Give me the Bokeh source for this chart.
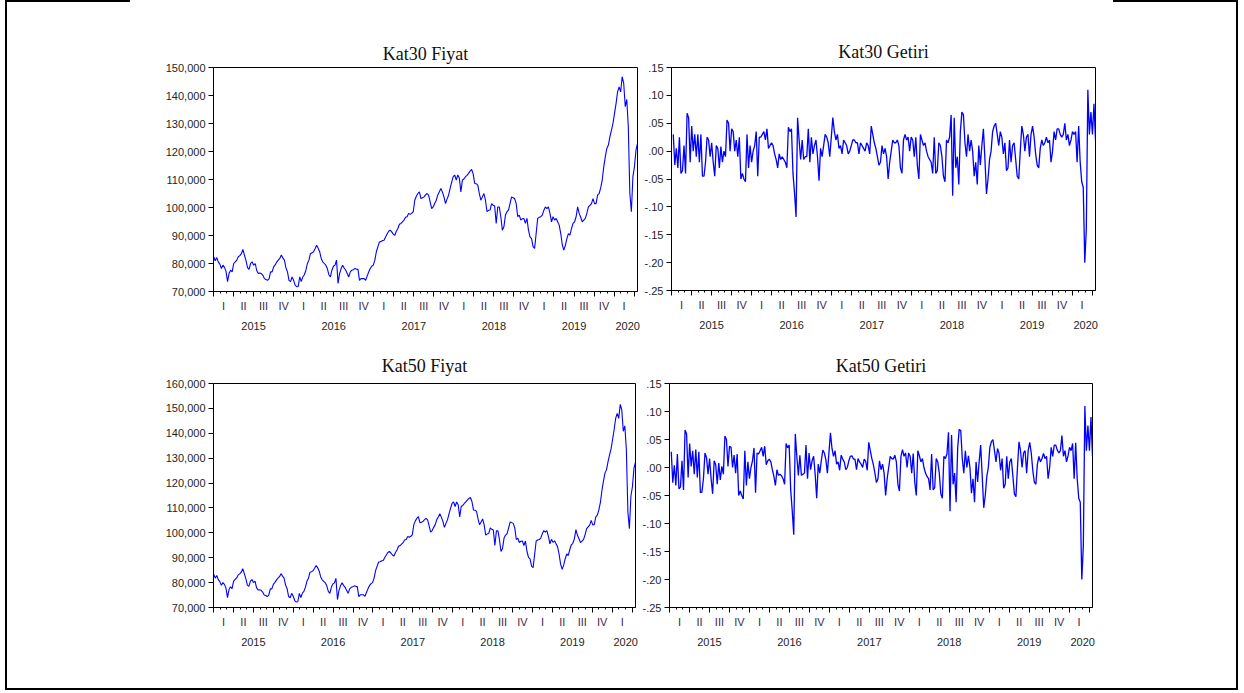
import numpy as np
import pandas as pd
from bokeh.plotting import figure
from bokeh.models import (LinearAxis, FixedTicker, CustomJSTickFormatter, Range1d,
                          Div, Spacer)
from bokeh.layouts import column, row
from bokeh.embed import file_html
from bokeh.resources import INLINE

# ---------------- data (weekly) ----------------
start_date = "2015-01-02"
n_weeks = 277

kat30_price_k = [
    82.4, 81.0, 82.1, 80.5, 79.8, 78.2, 79.4, 78.6, 77.2, 73.5,
    76.5, 77.6, 77.0, 80.0, 80.6, 81.2, 82.4, 82.8, 83.5, 85.0,
    83.0, 81.0, 78.5, 77.9, 80.0, 80.6, 79.4, 80.0, 77.5, 76.4,
    76.6, 76.4, 75.8, 74.6, 74.3, 74.0, 74.5, 77.0, 77.0, 78.8,
    79.5, 80.5, 81.2, 81.8, 83.0, 82.0, 81.2, 78.5, 77.0, 74.0,
    73.5, 75.2, 74.0, 72.3, 71.7, 71.8, 75.2, 73.5, 75.2, 76.0,
    77.6, 80.0, 81.2, 83.6, 83.8, 84.2, 85.3, 86.5, 85.5, 84.2,
    81.8, 80.6, 80.0, 79.4, 78.2, 76.0, 75.2, 77.6, 79.0, 79.4,
    81.2, 72.9, 76.4, 78.2, 79.4, 78.4, 77.6, 76.4, 75.2, 77.0,
    77.6, 77.8, 78.2, 78.0, 77.9, 74.0, 74.6, 74.6, 74.6, 74.0,
    75.5, 77.0, 78.2, 79.0, 79.4, 81.2, 84.2, 86.0, 87.7, 87.8,
    88.2, 88.3, 89.5, 90.5, 91.5, 91.9, 91.3, 90.5, 90.1, 91.5,
    92.5, 94.0, 94.3, 94.9, 95.5, 96.5, 96.7, 97.9, 97.6, 97.9,
    98.5, 102.6, 104.0, 105.0, 105.6, 103.2, 103.5, 103.8, 104.5, 105.0,
    104.4, 102.0, 99.6, 100.2, 101.5, 102.6, 104.5, 105.6, 106.8, 105.5,
    103.8, 101.4, 103.0, 104.4, 106.8, 109.0, 111.0, 111.6, 109.8, 111.6,
    110.5, 105.6, 109.8, 110.2, 111.0, 111.5, 112.2, 113.0, 113.6, 112.0,
    108.6, 108.5, 108.0, 105.0, 102.6, 103.8, 105.0, 102.6, 98.5, 99.0,
    99.1, 101.4, 100.8, 100.5, 94.3, 100.2, 100.2, 96.7, 91.9, 93.1,
    97.3, 98.5, 99.1, 101.4, 103.8, 103.5, 103.2, 101.4, 96.7, 97.3,
    95.5, 96.0, 96.1, 94.3, 96.1, 91.9, 89.5, 88.9, 86.0, 85.4,
    90.7, 96.1, 96.5, 96.7, 97.3, 99.0, 100.2, 99.6, 100.2, 97.9,
    94.9, 96.7, 95.5, 96.1, 94.9, 93.7, 90.7, 86.7, 84.8, 86.5,
    88.9, 90.7, 90.1, 92.5, 94.3, 94.9, 96.7, 100.2, 97.9, 96.5,
    94.9, 95.5, 96.1, 97.9, 100.2, 100.8, 101.4, 103.2, 101.4, 101.4,
    104.4, 105.0, 107.0, 109.8, 114.5, 118.1, 121.1, 122.3, 125.2, 127.6,
    130.0, 133.6, 137.1, 141.3, 143.1, 141.3, 146.7, 144.3, 136.0, 138.6,
    128.8, 105.0, 98.5, 111.0, 114.5, 120.5, 122.9,
]

kat50_price_k = [
    83.4, 81.8, 82.9, 81.2, 80.4, 78.9, 80.0, 79.3, 77.8, 74.0,
    77.2, 78.3, 77.6, 80.6, 81.3, 81.9, 83.1, 83.5, 84.2, 85.6,
    83.6, 81.6, 79.0, 78.5, 80.6, 81.2, 80.0, 80.6, 78.0, 77.0,
    77.1, 76.9, 76.2, 75.0, 74.8, 74.4, 75.0, 77.5, 77.5, 79.3,
    80.1, 81.0, 81.8, 82.4, 83.6, 82.6, 81.8, 79.0, 77.5, 74.4,
    73.9, 75.7, 74.5, 72.8, 72.2, 72.3, 75.7, 74.0, 75.8, 76.5,
    78.2, 80.6, 81.8, 84.2, 84.4, 84.8, 85.8, 86.9, 86.0, 84.7,
    82.3, 81.1, 80.5, 79.9, 78.7, 76.5, 75.7, 78.1, 79.5, 79.9,
    81.7, 73.2, 76.9, 78.7, 79.9, 78.9, 78.1, 76.9, 75.7, 77.5,
    78.1, 78.3, 78.7, 78.5, 78.4, 74.4, 75.1, 75.1, 75.1, 74.5,
    76.0, 77.5, 78.8, 79.6, 80.0, 81.8, 84.8, 86.6, 88.3, 88.4,
    88.8, 88.9, 90.1, 91.1, 92.1, 92.5, 91.9, 91.1, 90.7, 92.1,
    93.1, 94.6, 94.9, 95.5, 96.1, 97.1, 97.3, 98.5, 98.2, 98.6,
    99.2, 103.3, 104.8, 105.9, 106.5, 104.0, 104.3, 104.6, 105.3, 105.8,
    105.2, 102.8, 100.3, 100.9, 102.2, 103.3, 105.3, 106.4, 107.7, 106.3,
    104.6, 102.2, 103.8, 105.2, 107.6, 109.8, 111.8, 112.4, 110.6, 112.4,
    111.3, 106.4, 110.6, 111.0, 111.8, 112.4, 113.1, 113.8, 114.2, 112.6,
    109.2, 109.1, 108.6, 105.6, 103.2, 104.4, 105.6, 103.2, 99.1, 99.6,
    99.7, 102.0, 101.4, 101.1, 94.9, 100.8, 100.8, 97.3, 92.5, 93.7,
    97.9, 99.1, 99.7, 102.0, 104.4, 104.1, 103.8, 102.0, 97.3, 97.9,
    96.1, 96.6, 96.7, 94.9, 96.7, 92.5, 90.1, 89.5, 86.6, 86.0,
    91.3, 96.7, 97.1, 97.3, 97.9, 99.6, 100.9, 100.3, 100.9, 98.6,
    95.6, 97.4, 96.2, 96.8, 95.6, 94.4, 91.4, 87.3, 85.3, 87.1,
    89.6, 91.5, 90.9, 93.3, 95.2, 95.8, 97.7, 101.3, 99.0, 97.6,
    96.1, 96.7, 97.4, 99.3, 101.7, 102.4, 103.1, 105.0, 103.2, 103.3,
    106.4, 107.1, 109.2, 112.2, 117.0, 120.8, 124.0, 125.4, 128.6, 131.3,
    133.8, 137.6, 141.5, 146.0, 148.0, 146.0, 151.6, 149.4, 140.8, 143.0,
    133.5, 108.5, 101.7, 114.8, 118.6, 126.0, 128.4,
]

# weekly returns start at the second week
kat30_return = [
    .03, -.025, .005, -.03, .025, -.04, -.035, .01, -.04, .068,
    .06, -.02, .045, 0, .03, -.01, .03, -.02, .03, -.045,
    -.045, -.02, .025, .02, -.01, .015, -.02, -.045, .01, .005,
    -.03, .008, -.02, 0, -.01, .056, .05, 0, .04, .035,
    0, .02, -.01, .025, -.05, -.04, -.05, -.055, .03, -.03,
    .01, -.02, 0, .01, .035, -.045, .025, .025, .03, .035,
    .02, .04, .005, .01, .015, .01, -.005, -.015, -.03, -.005,
    -.015, -.01, -.015, -.02, -.03, .043, .035, .04, -.04, -.075,
    -.118, .06, .02, -.015, .02, -.015, -.01, -.01, .04, -.02,
    .025, -.005, .01, .02, -.01, -.053, .005, -.01, .01, .03,
    .025, .015, -.01, .025, .06, .035, .02, .03, .005, .01,
    -.005, .02, .015, .01, -.005, 0, .01, .02, .02, .015,
    .015, -.005, .015, .01, .005, 0, .015, .01, -.005, .045,
    .03, .015, .005, -.01, -.025, -.02, .01, -.005, .005, -.01,
    -.05, -.02, 0, .02, .015, .015, .02, .01, -.03, -.04,
    .02, .03, .02, .025, 0, .025, .02, -.01, .025, -.025,
    -.05, .03, .02, .01, .015, 0, -.01, -.015, -.02, -.04,
    .025, -.04, -.035, .015, .01, -.01, -.045, -.055, .02, .015,
    .025, .065, -.08, .06, -.03, -.01, -.06, .035, .07, .065,
    .015, -.01, .03, 0, .02, 0, -.045, -.02, -.06, .01,
    -.025, .01, .04, -.015, -.077, -.05, -.015, 0, .035, .045,
    .05, .03, .01, .035, .025, -.005, .015, -.035, -.03, .02,
    -.02, .01, .015, -.015, -.045, -.05, 0, .045, .03, 0,
    .025, .03, -.01, .03, .045, .025, -.005, -.025, -.03, .005,
    .02, .01, .015, .025, .015, .02, -.02, 0, .035, .02,
    .04, .04, .03, .025, .03, .05, .02, .03, .01, .02,
    .035, .03, .035, -.02, .045, -.02, -.055, -.065, -.20, -.14,
    .11, .03, .07, .03, .085, .02,
]

kat50_return = [
    .028, -.027, .004, -.032, .024, -.038, -.035, .012, -.04, .067,
    .06, -.018, .043, .002, .03, -.012, .032, -.018, .028, -.045,
    -.044, -.02, .026, .018, -.012, .016, -.02, -.047, .012, .005,
    -.03, .008, -.022, .002, -.012, .056, .05, .002, .038, .036,
    0, .022, -.01, .024, -.05, -.042, -.05, -.056, .03, -.032,
    .01, -.02, 0, .012, .035, -.045, .026, .024, .03, .036,
    .02, .038, .005, .012, .015, .01, -.004, -.016, -.032, -.004,
    -.014, -.012, -.015, -.02, -.03, .043, .035, .04, -.04, -.077,
    -.12, .06, .02, -.014, .022, -.014, -.012, -.01, .04, -.02,
    .026, -.004, .012, .02, -.012, -.055, .006, -.01, .012, .031,
    .026, .014, -.01, .026, .062, .034, .02, .03, .006, .01,
    -.005, .022, .015, .01, -.004, 0, .012, .02, .021, .015,
    .015, -.004, .016, .01, .006, 0, .015, .011, -.005, .045,
    .03, .016, .005, -.01, -.027, -.02, .012, -.004, .006, -.01,
    -.05, -.02, 0, .02, .016, .015, .022, .01, -.03, -.042,
    .02, .032, .02, .026, 0, .026, .02, -.01, .025, -.026,
    -.05, .03, .021, .01, .016, 0, -.01, -.016, -.02, -.04,
    .024, -.04, -.036, .016, .01, -.01, -.047, -.055, .02, .016,
    .024, .063, -.078, .058, -.03, -.01, -.062, .035, .068, .066,
    .016, -.01, .03, 0, .021, 0, -.046, -.02, -.062, .01,
    -.026, .01, .04, -.015, -.072, -.05, -.016, 0, .036, .046,
    .05, .03, .01, .034, .025, -.005, .016, -.037, -.03, .02,
    -.02, .01, .016, -.015, -.047, -.052, 0, .046, .03, 0,
    .026, .03, -.01, .03, .045, .026, -.005, -.026, -.03, .006,
    .02, .01, .016, .025, .016, .02, -.02, 0, .036, .02,
    .04, .04, .031, .026, .03, .057, .02, .03, .01, .021,
    .036, .03, .043, -.02, .044, -.02, -.055, -.062, -.20, -.14,
    .11, .03, .075, .03, .09, .02,
]

price30_ticks = [70, 80, 90, 100, 110, 120, 130, 140, 150]
price50_ticks = [70, 80, 90, 100, 110, 120, 130, 140, 150, 160]
return_ticks = [-0.25, -0.20, -0.15, -0.10, -0.05, 0.0, 0.05, 0.10, 0.15]
quarter_names = ["I", "II", "III", "IV"]
year_label_pos = [2015.5, 2016.5, 2017.5, 2018.5, 2019.5, 2020.17]

# ---------------- time axis helpers ----------------
dates = pd.date_range(start_date, periods=n_weeks, freq="7D")
days_in_year = np.where(dates.is_leap_year, 366, 365)
xdec = (dates.year + (dates.dayofyear - 1) / days_in_year).to_numpy(dtype=float)
x_end = float(xdec[-1])

quarter_bounds = [2015 + q / 4 for q in range(0, 22)]
month_bounds = [2015 + m / 12 for m in range(0, 64)]
quarter_centers = [2015 + q / 4 + 0.125 for q in range(0, 21)]

LABEL_FONT = "Liberation Sans"
TITLE_FONT = "Liberation Serif"
TXT = "#1e1e1e"
BLUE = "#0000ff"

price_fmt = CustomJSTickFormatter(code="""
    const v = Math.round(tick * 1000);
    return v.toString().replace(/\\B(?=(\\d{3})+(?!\\d))/g, ",");
""")
ret_fmt = CustomJSTickFormatter(code="""
    const a = Math.abs(tick).toFixed(2).replace(/^0/, "");
    return (tick < -1e-9 ? "-" : "") + a;
""")
quarter_fmt = CustomJSTickFormatter(args=dict(names=quarter_names), code="""
    const f = tick - Math.floor(tick);
    const q = Math.floor(f * 4 + 1e-6);
    return names[q];
""")
year_fmt = CustomJSTickFormatter(code="return String(Math.floor(tick + 1e-6));")
blank_fmt = CustomJSTickFormatter(code="return '';")


def make_panel(title, xs, ys, ylo, yhi, yticks, yfmt, fw, fh, bl, br, bt, bb,
               tstand, lw):
    p = figure(frame_width=fw, frame_height=fh,
               x_range=Range1d(2015.0, x_end), y_range=Range1d(ylo, yhi),
               x_axis_type=None, y_axis_type=None,
               toolbar_location=None, output_backend="svg",
               min_border_left=bl, min_border_right=br,
               min_border_top=bt, min_border_bottom=bb,
               background_fill_color="white", border_fill_color="white",
               outline_line_color="black", outline_line_width=1,
               title=title)
    p.title.align = "center"
    p.title.text_font = TITLE_FONT
    p.title.text_font_size = "18px"
    p.title.text_font_style = "normal"
    p.title.text_color = "#111111"
    p.title.standoff = tstand

    yax = LinearAxis(ticker=FixedTicker(ticks=yticks), formatter=yfmt,
                     major_tick_out=5, major_tick_in=0,
                     minor_tick_line_color=None, axis_line_color="black",
                     major_tick_line_color="black",
                     major_label_text_font=LABEL_FONT,
                     major_label_text_font_size="11px",
                     major_label_text_color=TXT, major_label_standoff=3)
    p.add_layout(yax, "left")

    tick_ax = LinearAxis(ticker=FixedTicker(ticks=quarter_bounds, minor_ticks=month_bounds),
                         formatter=blank_fmt, major_tick_out=5, major_tick_in=0,
                         minor_tick_out=2, minor_tick_in=0,
                         axis_line_color="black", major_tick_line_color="black",
                         minor_tick_line_color="black",
                         major_label_text_font_size="0px", major_label_standoff=0)
    p.add_layout(tick_ax, "below")

    q_ax = LinearAxis(ticker=FixedTicker(ticks=quarter_centers, minor_ticks=[]),
                      formatter=quarter_fmt, axis_line_color=None,
                      major_tick_line_color=None, minor_tick_line_color=None,
                      major_tick_out=0, major_tick_in=0,
                      major_label_text_font=LABEL_FONT,
                      major_label_text_font_size="11px",
                      major_label_text_color="#3a2a48", major_label_standoff=3)
    p.add_layout(q_ax, "below")

    y_ax = LinearAxis(ticker=FixedTicker(ticks=year_label_pos, minor_ticks=[]),
                      formatter=year_fmt, axis_line_color=None,
                      major_tick_line_color=None, minor_tick_line_color=None,
                      major_tick_out=0, major_tick_in=0,
                      major_label_text_font=LABEL_FONT,
                      major_label_text_font_size="11px",
                      major_label_text_color=TXT, major_label_standoff=7)
    p.add_layout(y_ax, "below")

    p.line(xs, ys, line_color=BLUE, line_width=lw)
    return p


xr = xdec[1:]
tl = make_panel("Kat30 Fiyat", xdec, kat30_price_k, 70, 150, price30_ticks, price_fmt,
                424, 224, 206, 4, 63, 49, 8, 1.1)
tr = make_panel("Kat30 Getiri", xr, kat30_return, -0.25, 0.15, return_ticks, ret_fmt,
                424, 223, 30, 141, 65, 48, 12, 1.3)
bl = make_panel("Kat50 Fiyat", xdec, kat50_price_k, 70, 160, price50_ticks, price_fmt,
                422, 224, 206, 4, 45, 81, 15, 1.1)
br = make_panel("Kat50 Getiri", xr, kat50_return, -0.25, 0.15, return_ticks, ret_fmt,
                423, 224, 30, 144, 45, 81, 16, 1.3)

BLACK = {"background-color": "#000000"}
top_line = row(Spacer(width=5, height=2, margin=0),
               Div(width=125, height=2, margin=0, styles=BLACK),
               Spacer(width=983, height=2, margin=0),
               Div(width=125, height=2, margin=0, styles=BLACK))
grid = column(row(tl, tr), row(bl, br))
middle = row(Spacer(width=5, height=686, margin=0),
             Div(width=2, height=686, margin=0, styles=BLACK),
             grid,
             Div(width=2, height=686, margin=0, styles=BLACK))
bottom_line = row(Spacer(width=5, height=2, margin=0),
                  Div(width=1233, height=2, margin=0, styles=BLACK))
page = column(top_line, middle, bottom_line)

open("out.html", "w").write(file_html(page, INLINE))
